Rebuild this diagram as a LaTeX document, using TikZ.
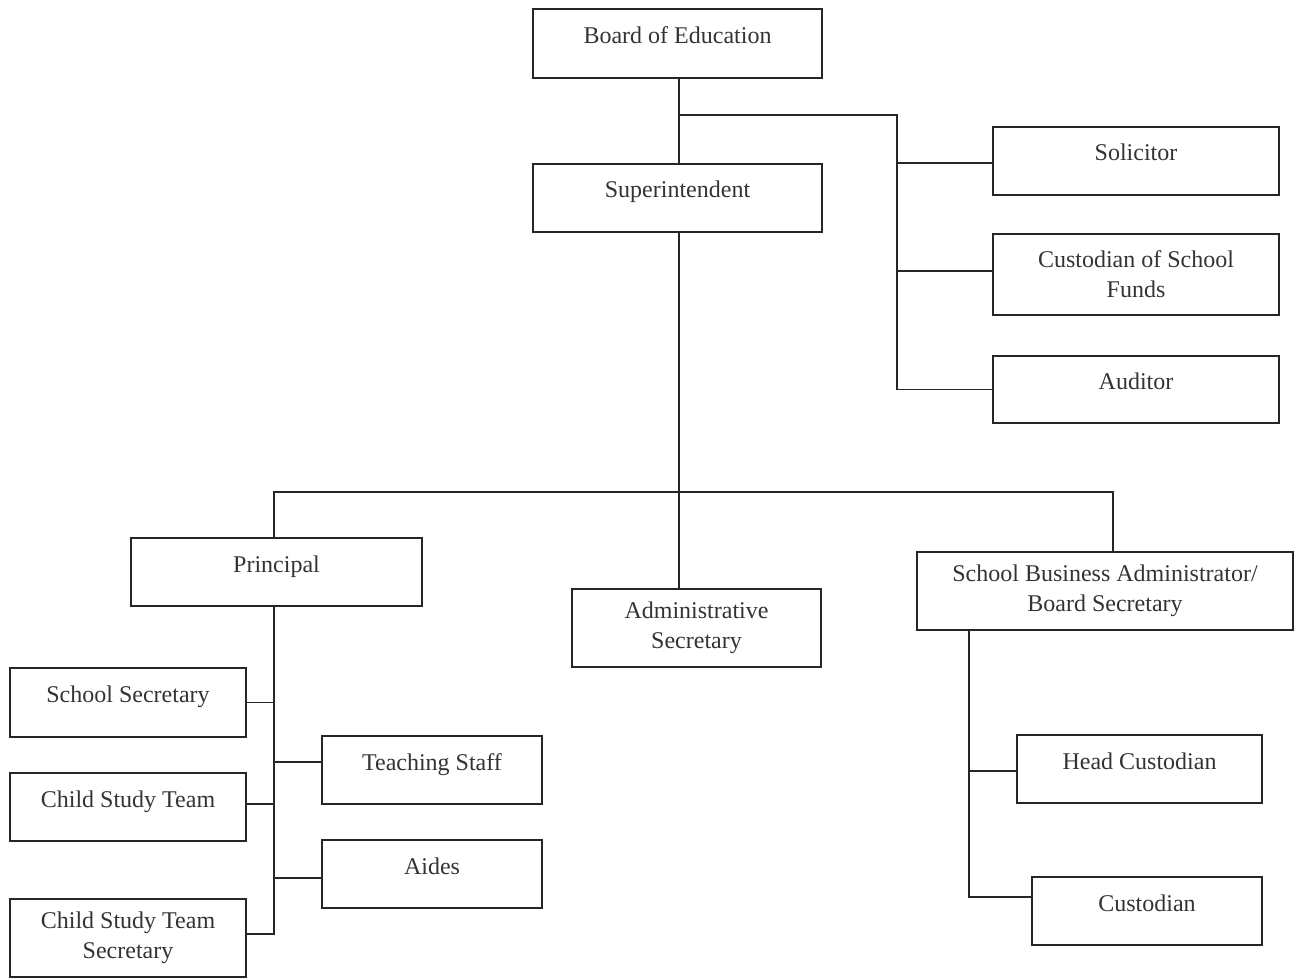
\documentclass[tikz,border=0pt]{standalone}
\usepackage{fontspec}
\setmainfont{Liberation Serif}

\begin{document}
\begin{tikzpicture}[x=0.5pt,y=-0.5pt,
  unit/.style={draw=black!85,line width=0.9pt,align=center,inner sep=0pt,
    text=black!80,font=\fontsize{12}{15}\selectfont},
  oneline/.style={unit,text height=9pt,text depth=9pt},
  link/.style={draw=black!85,line width=0.9pt}]
\useasboundingbox (0,0) rectangle (1294,978);

% Define offices
\node[oneline,minimum width=144.5pt,minimum height=34.5pt] (board) at (677.5,43.5) {Board of Education};
\node[oneline,minimum width=144.5pt,minimum height=34pt] (supt) at (677.5,198) {Superintendent};
\node[oneline,minimum width=143pt,minimum height=34pt] (solicitor) at (1136,161) {Solicitor};
\node[unit,minimum width=143pt,minimum height=40.5pt] (funds) at (1136,274.5) {Custodian of School\\Funds};
\node[oneline,minimum width=143pt,minimum height=33.5pt] (auditor) at (1136,389.5) {Auditor};

% Second level
\node[oneline,minimum width=145.5pt,minimum height=34pt] (principal) at (276.5,572) {Principal};
\node[unit,minimum width=124.5pt,minimum height=39pt] (adminsec) at (696.5,628) {Administrative\\Secretary};
\node[unit,minimum width=188pt,minimum height=39pt] (sba) at (1105,591) {School Business Administrator/\\Board Secretary};

% Principal's staff
\node[oneline,minimum width=118pt,minimum height=34.5pt] (schoolsec) at (128,702.5) {School Secretary};
\node[oneline,minimum width=118pt,minimum height=34pt] (cst) at (128,807) {Child Study Team};
\node[unit,minimum width=118pt,minimum height=39pt] (cstsec) at (128,938) {Child Study Team\\Secretary};
\node[oneline,minimum width=110pt,minimum height=34pt] (teaching) at (432,770) {Teaching Staff};
\node[oneline,minimum width=110pt,minimum height=34pt] (aides) at (432,874) {Aides};

% Business office staff
\node[oneline,minimum width=122.5pt,minimum height=34pt] (headcust) at (1139.5,769) {Head Custodian};
\node[oneline,minimum width=115pt,minimum height=34pt] (custodian) at (1147,911) {Custodian};

% Draw connections
\coordinate (bjoin) at (679,115);
\coordinate (brail) at (897,115);
\coordinate (hub) at (679,492);
\draw[link] ([xshift=0.75pt]board.south) -- ([xshift=0.75pt]supt.north);
\draw[link] (bjoin) -- (brail) |- (auditor.west);
\draw[link] ([yshift=-1pt]solicitor.west) -| (brail);
\draw[link] ([yshift=1.75pt]funds.west) -| (brail);

\draw[link] ([xshift=0.75pt]supt.south) -- ([xshift=-8.75pt]adminsec.north);
\draw[link] ([xshift=-1.25pt]principal.north) |- (hub) -| ([xshift=4pt]sba.north);

\draw[link] ([xshift=-1.25pt]principal.south) |- ([yshift=2pt]cstsec.east);
\draw[link] (schoolsec.east) -| ([xshift=-1.25pt]principal.south);
\draw[link] ([yshift=1.5pt]cst.east) -| ([xshift=-1.25pt]principal.south);
\draw[link] ([yshift=4pt]teaching.west) -| ([xshift=-1.25pt]principal.south);
\draw[link] ([yshift=-2pt]aides.west) -| ([xshift=-1.25pt]principal.south);

\draw[link] ([xshift=26.5pt]sba.south west) |- ([yshift=7pt]custodian.west);
\draw[link] ([yshift=-1pt]headcust.west) -| ([xshift=26.5pt]sba.south west);
\end{tikzpicture}
\end{document}
